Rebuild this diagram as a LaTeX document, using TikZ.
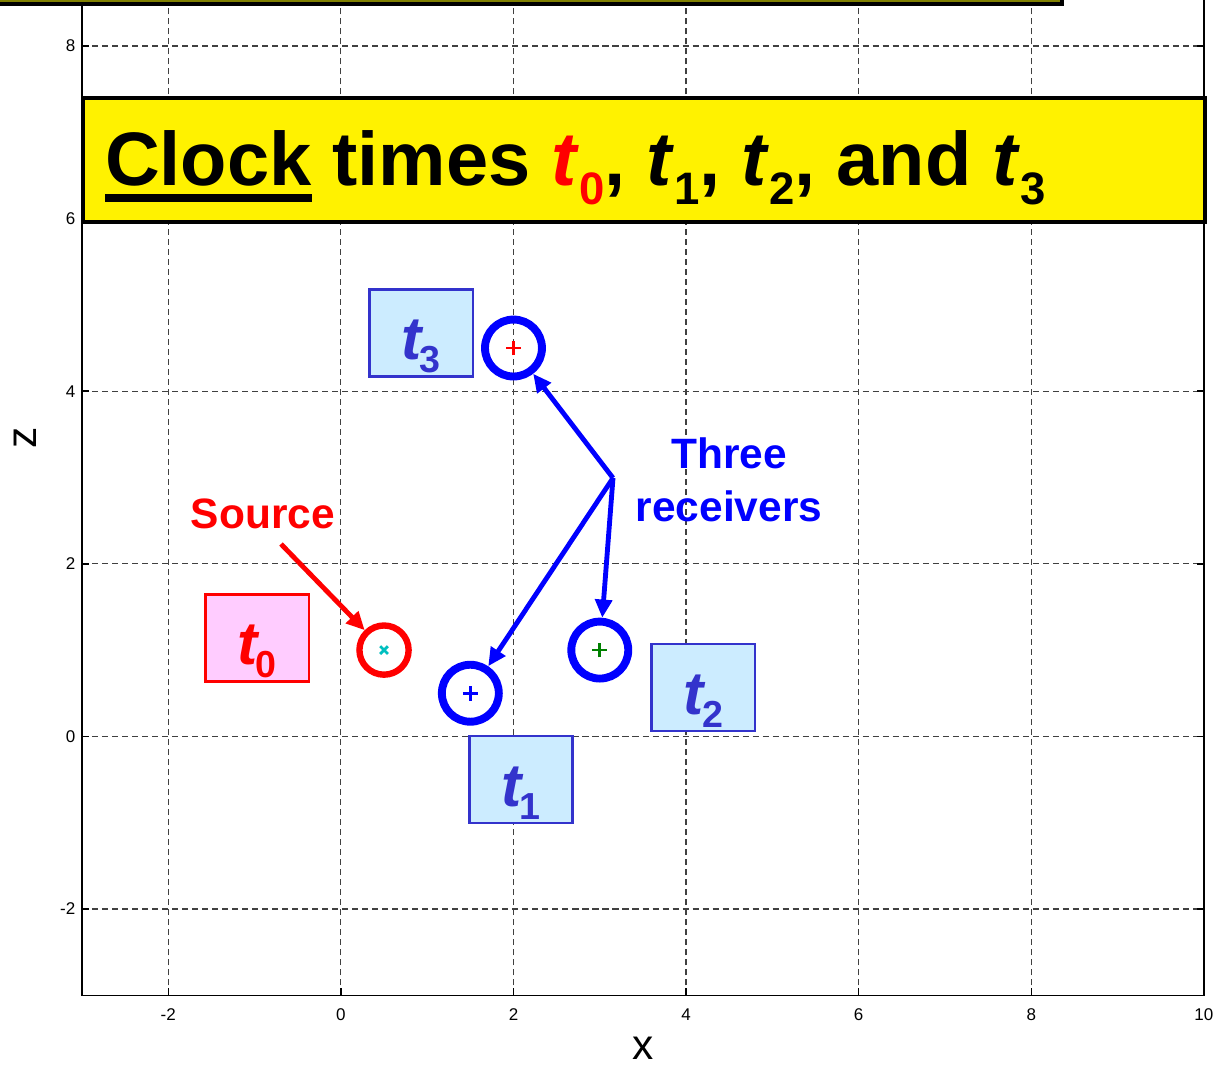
\documentclass[tikz,border=0pt]{standalone}
\usepackage{fontspec}
\setmainfont{Liberation Sans}
\usepackage{graphicx}
\usepackage{tikz}
\usetikzlibrary{
  arrows.meta, calc, positioning
}
\usepackage{xcolor}
\definecolor{labelblue}{RGB}{51,51,204}
\definecolor{boxblue}{RGB}{204,236,255}
\definecolor{boxpink}{RGB}{255,204,255}
\definecolor{mkgreen}{RGB}{0,128,0}
\definecolor{mkcyan}{RGB}{0,191,191}
\definecolor{stripolive}{RGB}{128,128,0}

% t with a subscript, for the title and for the boxes
\newcommand{\tsub}[1]{{\itshape t}\kern0.03em\raisebox{-0.24em}{\scalebox{0.6}{#1}}}
\newcommand{\tlab}[1]{\rule{0pt}{22pt}{\itshape t}\kern-0.03em\raisebox{-0.22em}{\scalebox{0.62}{#1}}}
\newcommand{\thickul}[1]{\setbox0\hbox{#1}\rlap{\rule[-5.3pt]{\wd0}{2.7pt}}\box0\relax}

\begin{document}
\begin{tikzpicture}[
  gridline/.style={gray!50!black, line width=0.4pt, dash pattern=on 2pt off 1.3pt},
  ticklab/.style={font=\fontsize{5.6}{6.5}\selectfont},
  rcv/.style={circle, draw=blue, line width=2.6pt, minimum size=0.66cm, inner sep=0pt},
  tbox/.style={draw=labelblue, fill=boxblue, line width=0.9pt, minimum width=1.2cm,
    minimum height=1.01cm, inner sep=0pt, text=labelblue, font=\fontsize{20}{24}\selectfont\bfseries},
  pointer/.style={-{Triangle[length=6pt,width=5.5pt]}, line width=1.6pt},
]
\clip (-3.95,-3.808) rectangle (10.152,8.533);
% grid and axes
\foreach \x in {-2,0,...,8} {
  \draw[gridline] (\x,-3) -- (\x,8.6);
}
\foreach \z in {-2,0,...,8} {
  \draw[gridline] (-3,\z) -- (10,\z);
}
\draw[line width=0.5pt] (-3,8.6) -- (-3,-3) -- (10,-3) -- (10,8.6);
\foreach \x in {-2,0,...,8} {
  \draw[line width=0.5pt] (\x,-3) -- (\x,-2.92);
}
\foreach \z in {-2,0,...,8} {
  \draw[line width=0.5pt] (-3,\z) -- (-2.92,\z);
  \draw[line width=0.5pt] (10,\z) -- (9.92,\z);
}
\foreach \x in {-2,0,...,10} {
  \node[ticklab] (xt\x) at (\x,-3.228) {\x};
}
\foreach \z in {-2,0,...,8} {
  \node[ticklab, anchor=east, inner sep=0pt] (zt\z) at (-3.07,\z) {\z};
}
\node[font=\fontsize{14}{16}\selectfont, inner sep=0pt] (xlab) at (3.50,-3.61) {x};
\node[font=\fontsize{14}{16}\selectfont, inner sep=0pt, rotate=90] (zlab) at (-3.66,3.458) {z};

% title
\filldraw[fill=stripolive, draw=black, line width=1.3pt] (-4.2,8.49) rectangle (8.356,8.58);
\node[draw=black, fill=yellow, line width=1.6pt, minimum width=13.0cm,
  minimum height=1.436cm, inner sep=0pt] (titlebox) at (3.5125,6.679) {};
\node[anchor=base west, inner sep=0pt, font=\fontsize{25}{30}\selectfont\bfseries]
  (title) at (-2.74,6.378)
  {\thickul{Clock} times \textcolor{red}{\tsub{0}}, \tsub{1}, \tsub{2}, and \tsub{3}};

% clock time labels
\node[tbox, draw=red, fill=boxpink, text=red] (lab0) at (-0.97,1.14) {\tlab{0}};
\node[tbox] (lab1) at (2.087,-0.50) {\tlab{1}};
\node[tbox] (lab2) at (4.20,0.567) {\tlab{2}};
\node[tbox] (lab3) at (0.93,4.675) {\tlab{3}};

% source and receivers
\node[circle, draw=red, line width=2.1pt, minimum size=0.57cm, inner sep=0pt] (src) at (0.5,1) {};
\node[rcv] (rx1) at (1.5,0.5) {};
\node[rcv] (rx2) at (3,1) {};
\node[rcv] (rx3) at (2,4.5) {};
\draw[mkcyan, line width=0.9pt] ($(src.center)+(-0.045,-0.045)$) -- ($(src.center)+(0.045,0.045)$)
  ($(src.center)+(-0.045,0.045)$) -- ($(src.center)+(0.045,-0.045)$);
\foreach \r/\c in {rx1/blue, rx2/mkgreen, rx3/red} {
  \draw[\c, line width=0.9pt] ($(\r.center)+(-0.085,0)$) -- ($(\r.center)+(0.085,0)$)
    ($(\r.center)+(0,-0.085)$) -- ($(\r.center)+(0,0.085)$);
}

% pointers
\node[text=red, font=\fontsize{14}{17}\selectfont\bfseries] (srclab) at (-0.903,2.577) {Source};
\node[text=blue, font=\fontsize{14}{17.5}\selectfont\bfseries, align=center] (rxlab) at (4.497,2.971)
  {Three\\receivers};
\coordinate (srctail) at (-0.694,2.229);
\coordinate (rxtail) at (3.153,2.994);
\draw[pointer, red] (srctail) -- (src);
\foreach \r in {rx1,rx2,rx3} {
  \draw[pointer, blue] (rxtail) -- (\r);
}
\end{tikzpicture}
\end{document}
